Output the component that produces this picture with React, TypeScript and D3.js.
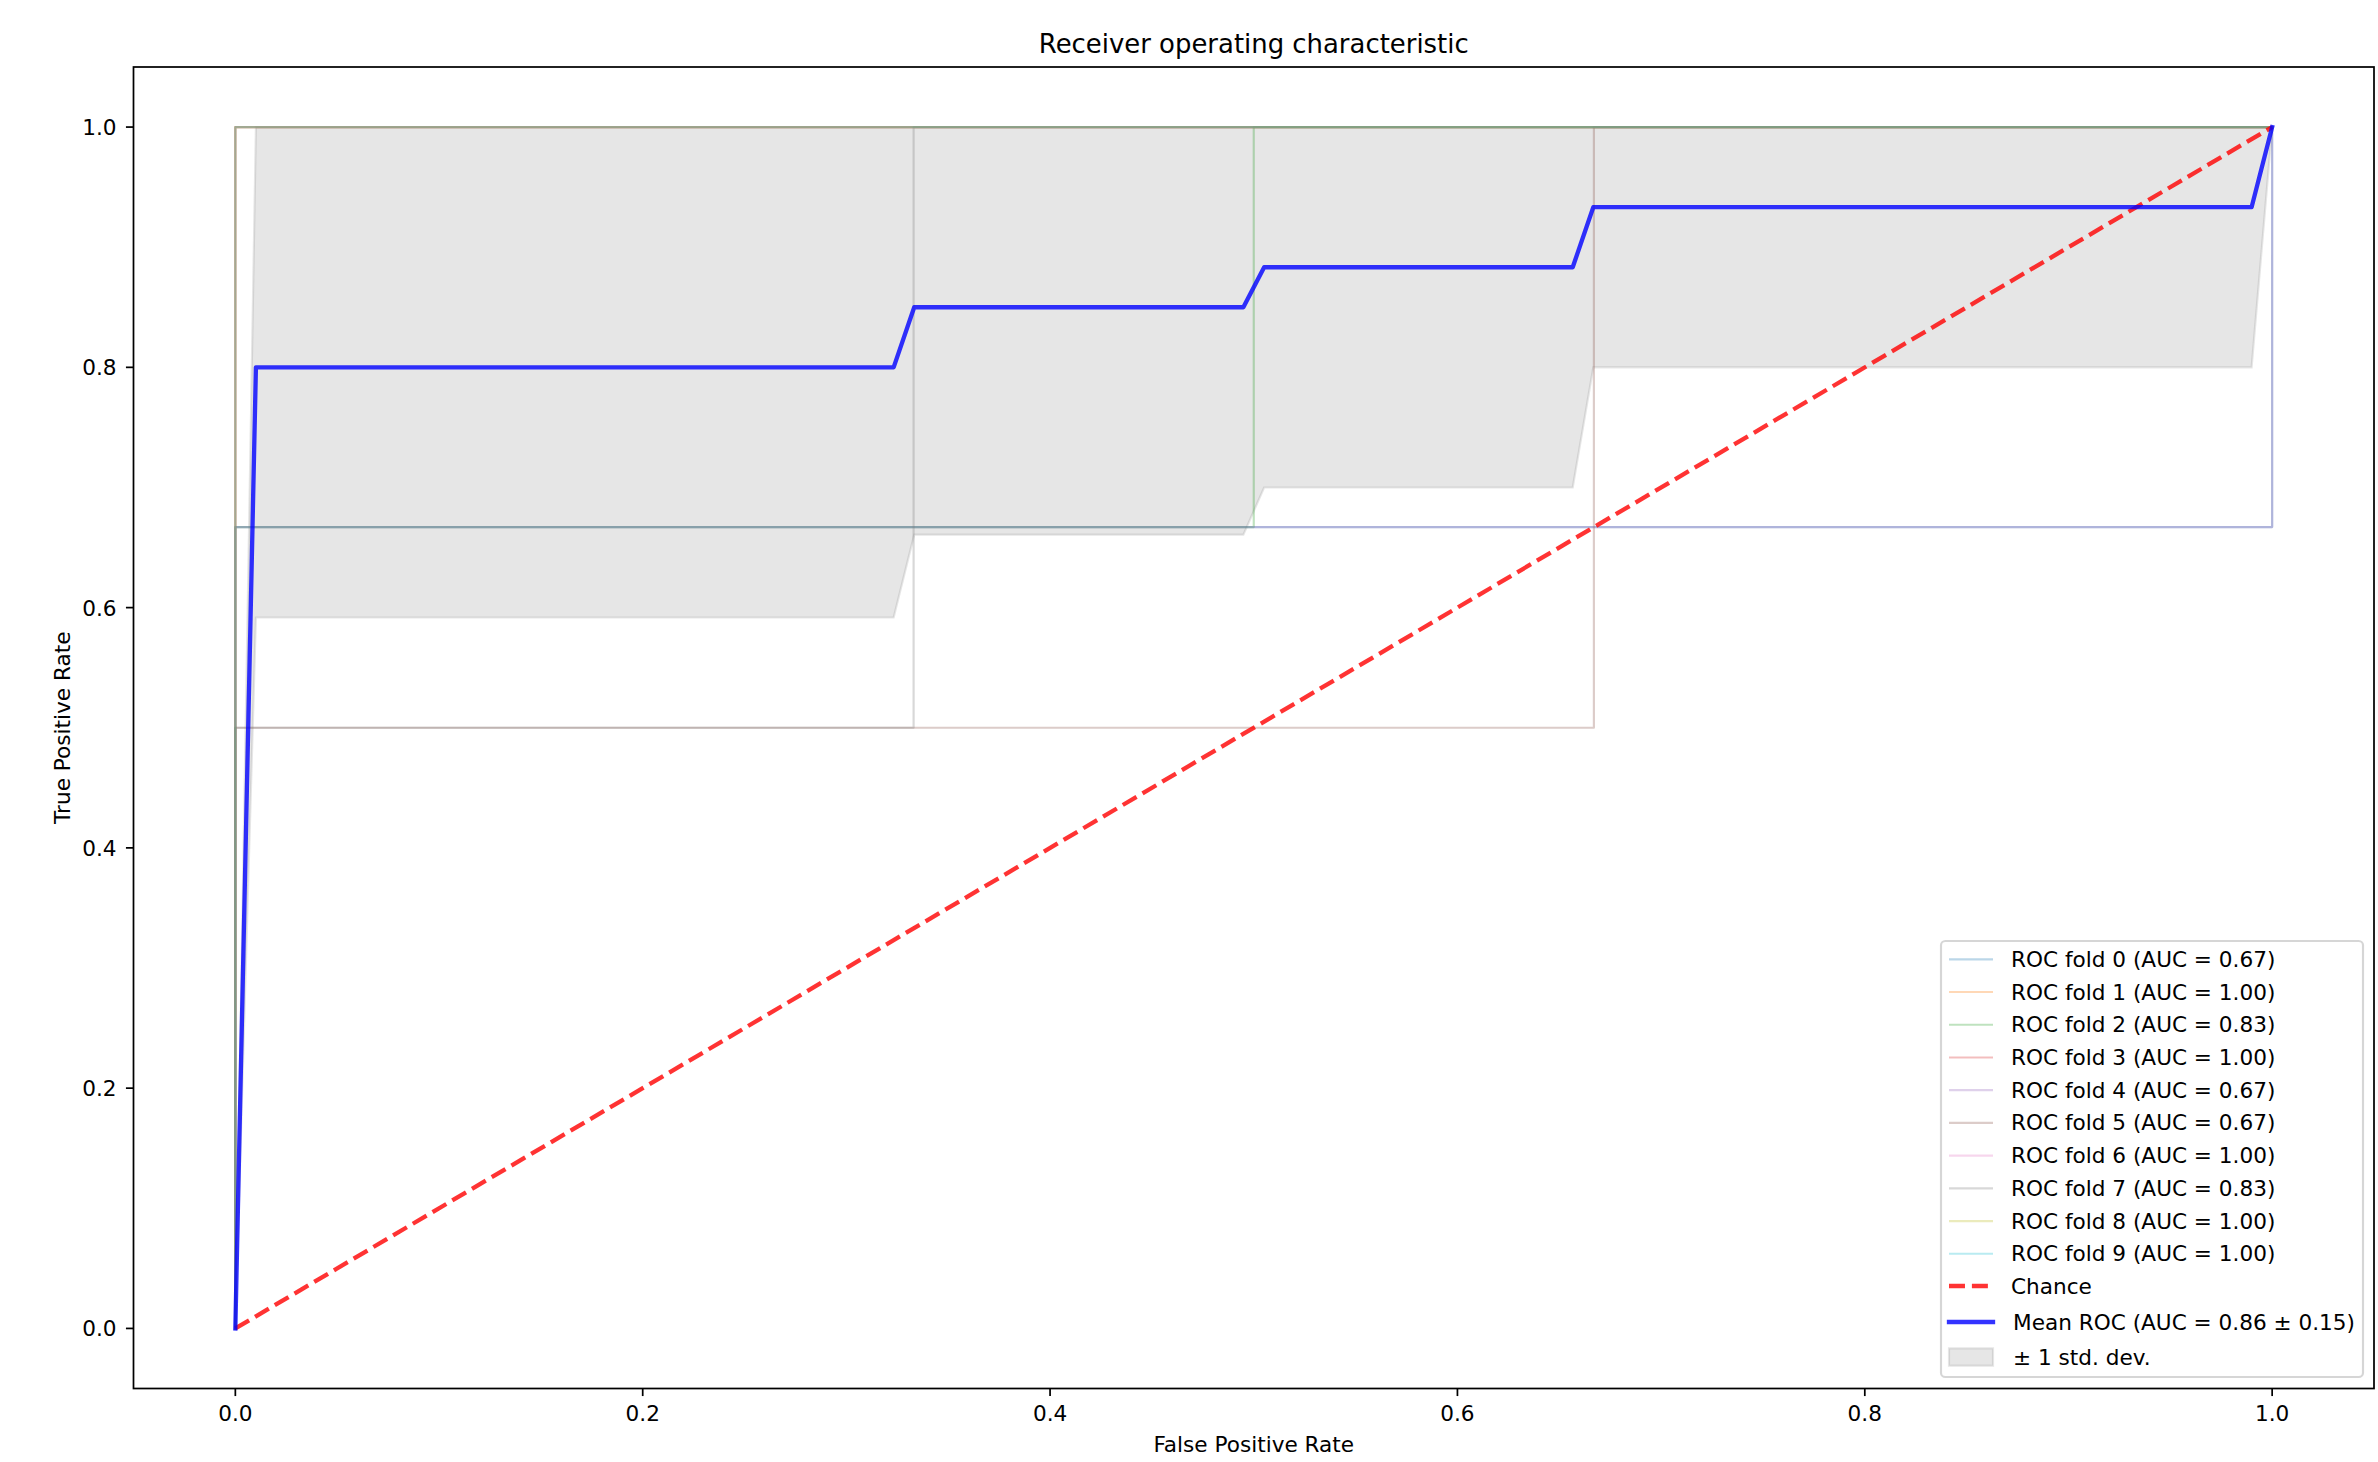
import React from "react";
import * as d3 from "d3";

// ---- Data ----
const foldLabels = ["ROC fold 0", "ROC fold 1", "ROC fold 2", "ROC fold 3", "ROC fold 4", "ROC fold 5", "ROC fold 6", "ROC fold 7", "ROC fold 8", "ROC fold 9"];
const foldAUC = [0.67, 1.0, 0.83, 1.0, 0.67, 0.67, 1.0, 0.83, 1.0, 1.0];
const foldFPR = [
  [0, 0, 1, 1],
  [0, 0, 1],
  [0, 0, 0.5, 0.5, 1],
  [0, 0, 1],
  [0, 0, 1, 1],
  [0, 0, 0.667, 0.667, 1],
  [0, 0, 1],
  [0, 0, 0.333, 0.333, 1],
  [0, 0, 1],
  [0, 0, 1],
];
const foldTPR = [
  [0, 0.667, 0.667, 1],
  [0, 1, 1],
  [0, 0.667, 0.667, 1, 1],
  [0, 1, 1],
  [0, 0.667, 0.667, 1],
  [0, 0.5, 0.5, 1, 1],
  [0, 1, 1],
  [0, 0.5, 0.5, 1, 1],
  [0, 1, 1],
  [0, 1, 1],
];
const foldColors = ["#1f77b4", "#ff7f0e", "#2ca02c", "#d62728", "#9467bd", "#8c564b", "#e377c2", "#7f7f7f", "#bcbd22", "#17becf"];

const chanceX = [0, 1];
const chanceY = [0, 1];

const meanFPR = [0, 0.0101, 0.3232, 0.3333, 0.4949, 0.5051, 0.6566, 0.6667, 0.9899, 1];
const meanTPR = [0, 0.8, 0.8, 0.85, 0.85, 0.8833, 0.8833, 0.9333, 0.9333, 1];
const stdLower = [0, 0.5918, 0.5918, 0.6607, 0.6607, 0.7, 0.7, 0.8, 0.8, 1];
const stdUpper = [0, 1, 1, 1, 1, 1, 1, 1, 1, 1];
const meanAUC = 0.86;
const stdAUC = 0.15;

const xTicks = [0, 0.2, 0.4, 0.6, 0.8, 1.0];
const yTicks = [0, 0.2, 0.4, 0.6, 0.8, 1.0];

const title = "Receiver operating characteristic";
const xLabel = "False Positive Rate";
const yLabel = "True Positive Rate";

// ---- Layout ----
const W = 2378;
const H = 1462;
const PT = 2.16;
const L = 133.5, R = 2374, T = 67, B = 1388.5;
const FONT = "DejaVu Sans";
const FS = 21.6;

export default function App() {
  const x = d3.scaleLinear().domain([-0.05, 1.05]).range([L, R]);
  const y = d3.scaleLinear().domain([-0.05, 1.05]).range([B, T]);

  const line = d3
    .line<[number, number]>()
    .x((d) => x(d[0]))
    .y((d) => y(d[1]));

  const area = d3
    .area<number>()
    .x((_, i) => x(meanFPR[i]))
    .y0((_, i) => y(stdLower[i]))
    .y1((_, i) => y(stdUpper[i]));

  const zip = (a: number[], b: number[]) => a.map((v, i) => [v, b[i]] as [number, number]);

  // legend geometry
  const lgX = 1941, lgY = 941, lgW = 422, lgH = 436;
  const hx0 = 1949, hx1 = 1993, tx = 2011;
  const rowY = (i: number) => 959.3 + i * 32.72;
  const chanceRowY = 1286;
  const meanRowY = 1322;
  const stdRowY = 1357;

  return (
    <svg
      width={W}
      height={H}
      style={{ position: "absolute", left: 0, top: 0, background: "#fff" }}
      fontFamily={FONT}
    >
      <rect x={0} y={0} width={W} height={H} fill="#fff" />
      <defs>
        <clipPath id="axclip">
          <rect x={L} y={T} width={R - L} height={B - T} />
        </clipPath>
      </defs>

      <g clipPath="url(#axclip)">
        {/* std band (zorder 1) */}
        <path
          d={area(meanFPR) || ""}
          fill="grey"
          fillOpacity={0.2}
          stroke="grey"
          strokeOpacity={0.2}
          strokeWidth={PT}
        />
        {/* folds */}
        {foldFPR.map((fx, i) => (
          <path
            key={i}
            d={line(zip(fx, foldTPR[i])) || ""}
            fill="none"
            stroke={foldColors[i]}
            strokeOpacity={0.3}
            strokeWidth={PT}
            strokeLinejoin="round"
            strokeLinecap="square"
          />
        ))}
        {/* chance */}
        <path
          d={line(zip(chanceX, chanceY)) || ""}
          fill="none"
          stroke="#ff0000"
          strokeOpacity={0.8}
          strokeWidth={2 * PT}
          strokeDasharray={`${3.7 * 2 * PT} ${1.6 * 2 * PT}`}
        />
        {/* mean */}
        <path
          d={line(zip(meanFPR, meanTPR)) || ""}
          fill="none"
          stroke="#0000ff"
          strokeOpacity={0.8}
          strokeWidth={2 * PT}
          strokeLinejoin="round"
          strokeLinecap="square"
        />
      </g>

      {/* spines */}
      <rect x={L} y={T} width={R - L} height={B - T} fill="none" stroke="#000" strokeWidth={0.8 * PT} />

      {/* x ticks */}
      {xTicks.map((t) => (
        <g key={"x" + t}>
          <line x1={x(t)} x2={x(t)} y1={B} y2={B + 3.5 * PT} stroke="#000" strokeWidth={0.8 * PT} />
          <text x={x(t)} y={1421} textAnchor="middle" fontSize={FS} fill="#000">
            {t.toFixed(1)}
          </text>
        </g>
      ))}
      {/* y ticks */}
      {yTicks.map((t) => (
        <g key={"y" + t}>
          <line x1={L} x2={L - 3.5 * PT} y1={y(t)} y2={y(t)} stroke="#000" strokeWidth={0.8 * PT} />
          <text x={116.5} y={y(t) + 8} textAnchor="end" fontSize={FS} fill="#000">
            {t.toFixed(1)}
          </text>
        </g>
      ))}

      {/* labels */}
      <text x={(L + R) / 2} y={1452} textAnchor="middle" fontSize={FS} fill="#000">
        {xLabel}
      </text>
      <text
        transform={`translate(69.5, ${(T + B) / 2}) rotate(-90)`}
        textAnchor="middle"
        fontSize={FS}
        fill="#000"
      >
        {yLabel}
      </text>
      <text x={(L + R) / 2} y={53} textAnchor="middle" fontSize={1.2 * FS} fill="#000">
        {title}
      </text>

      {/* legend */}
      <rect
        x={lgX}
        y={lgY}
        width={lgW}
        height={lgH}
        rx={4.3}
        ry={4.3}
        fill="#fff"
        fillOpacity={0.8}
        stroke="#cccccc"
        strokeOpacity={0.8}
        strokeWidth={PT}
      />
      {foldLabels.map((lab, i) => (
        <g key={"lg" + i}>
          <line
            x1={hx0}
            x2={hx1}
            y1={rowY(i)}
            y2={rowY(i)}
            stroke={foldColors[i]}
            strokeOpacity={0.3}
            strokeWidth={PT}
          />
          <text x={tx} y={rowY(i) + 7.5} fontSize={FS} fill="#000">
            {`${lab} (AUC = ${foldAUC[i].toFixed(2)})`}
          </text>
        </g>
      ))}
      <line
        x1={hx0}
        x2={hx1}
        y1={chanceRowY}
        y2={chanceRowY}
        stroke="#ff0000"
        strokeOpacity={0.8}
        strokeWidth={2 * PT}
        strokeDasharray={`${3.7 * 2 * PT} ${1.6 * 2 * PT}`}
      />
      <text x={tx} y={chanceRowY + 7.5} fontSize={FS} fill="#000">
        Chance
      </text>
      <line
        x1={hx0}
        x2={hx1}
        y1={meanRowY}
        y2={meanRowY}
        stroke="#0000ff"
        strokeOpacity={0.8}
        strokeWidth={2 * PT}
        strokeLinecap="square"
      />
      <text x={tx + 2} y={meanRowY + 7.5} fontSize={FS} fill="#000">
        {`Mean ROC (AUC = ${meanAUC.toFixed(2)} ± ${stdAUC.toFixed(2)})`}
      </text>
      <rect
        x={hx0}
        y={stdRowY - 8.6}
        width={hx1 - hx0}
        height={17.3}
        fill="grey"
        fillOpacity={0.2}
        stroke="grey"
        strokeOpacity={0.2}
        strokeWidth={PT}
      />
      <text x={tx + 2} y={stdRowY + 7.5} fontSize={FS} fill="#000">
        ± 1 std. dev.
      </text>
    </svg>
  );
}
